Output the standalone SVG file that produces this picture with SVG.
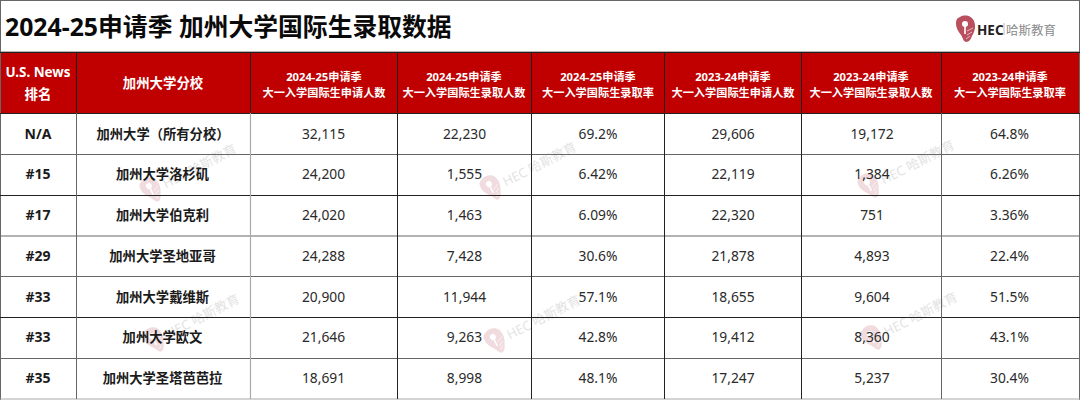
<svg xmlns="http://www.w3.org/2000/svg" width="1080" height="400" viewBox="0 0 1080 400">
<style>
text{font-family:"Noto Sans","Noto Sans CJK SC",sans-serif;text-anchor:middle}
.title{font-size:24.8px;font-weight:700;fill:#0a0a0a;text-anchor:start}
.hd{font-size:11.2px;font-weight:700;fill:#fff}
.hb{font-size:13.4px;font-weight:700;fill:#fff}
.r{font-size:14px;font-weight:700;fill:#1a1a1a}
.n{font-size:13.3px;font-weight:700;fill:#1a1a1a}
.v{font-size:13.8px;fill:#2a2a2a}
.dk{stroke:#222;stroke-width:1}
.md{stroke:#666;stroke-width:1}
.lt{stroke:#aaa;stroke-width:1.2}
.wm{font-size:13px;fill:#d8d8d8;opacity:.7;text-anchor:start}
</style>
<defs>
<g id="mark">
<path d="M-6-12C-1-15 6-13 8-8C10-3 9 2 6 7C5 10 3 13 0 13C-3 12-3 9-5 6C-8 2-10-1-10-5C-10-9-9-11-6-12Z" fill="#b9505f"/>
<circle cx="-1" cy="-5" r="3" fill="#fff"/>
<path d="M-1-3V5" stroke="#fff" stroke-width="1.6"/>
<path d="M1 2L7-1M1 6L6 3M0 10L4 7" stroke="#f0d0d5" stroke-width=".8"/>
</g>
<g id="wm" opacity=".2">
<use href="#mark"/>
</g>
</defs>
<rect width="1080" height="400" fill="#fff"/>
<g id="watermarks">
<g transform="translate(152 190) rotate(-27)"><use href="#wm"/><text class="wm" x="13" y="5">HEC 哈斯教育</text></g>
<g transform="translate(492 188) rotate(-27)"><use href="#wm"/><text class="wm" x="13" y="5">HEC 哈斯教育</text></g>
<g transform="translate(870 186) rotate(-27)"><use href="#wm"/><text class="wm" x="13" y="5">HEC 哈斯教育</text></g>
<g transform="translate(155 340) rotate(-27)"><use href="#wm"/><text class="wm" x="13" y="5">HEC 哈斯教育</text></g>
<g transform="translate(496 341) rotate(-27)"><use href="#wm"/><text class="wm" x="13" y="5">HEC 哈斯教育</text></g>
<g transform="translate(873 338) rotate(-27)"><use href="#wm"/><text class="wm" x="13" y="5">HEC 哈斯教育</text></g>
</g>
<text class="title" x="5" y="36">2024-25申请季 加州大学国际生录取数据</text>
<g id="logo">
<use href="#mark" transform="translate(966 29)"/>
<text x="977" y="35" style="font-size:13.5px;font-weight:700;fill:#222;text-anchor:start">HEC</text>
<path d="M1004 23V35" stroke="#bbb"/>
<text x="1006" y="35" style="font-size:12.5px;fill:#8a8a8a;text-anchor:start">哈斯教育</text>
</g>
<rect id="header" x="0" y="52" width="1080" height="61.5" fill="#c00000"/>
<g id="grid" fill="none">
<path class="md" d="M0 .5H1080M.5 0V400M1079.5 0V400M0 52H1080" stroke="#777"/>
<path class="dk" d="M0 52.5H1080M0 113.5H1080M76.5 52V113M250.5 52V113M397.5 52V113M531.5 52V113M664.5 52V113M801.5 52V113M941.5 52V113"/>
<path class="md" d="M0 154.5H1080M0 236H1080M0 276.5H1080M0 358.5H1080"/>
<path class="dk" d="M0 195.5H1080M0 317.5H1080" stroke-width="1.2"/>
<path class="lt" d="M0 399H1080"/>
<path class="md" d="M76.5 113V399"/>
<path class="lt" d="M250.5 113V399"/>
<path class="dk" d="M397.5 113V399M531.5 113V399M664.5 113V399M801.5 113V399"/>
<path class="md" d="M941.5 113V399"/>
</g>
<g id="head">
<text class="hb" x="38" y="77">U.S. News</text><text class="hb" x="38" y="99">排名</text>
<text class="hb" x="163" y="88">加州大学分校</text>
<text class="hd" x="324" y="80.500">2024-25申请季</text><text class="hd" x="324" y="96.500">大一入学国际生申请人数</text>
<text class="hd" x="464" y="80.500">2024-25申请季</text><text class="hd" x="464" y="96.500">大一入学国际生录取人数</text>
<text class="hd" x="598" y="80.500">2024-25申请季</text><text class="hd" x="598" y="96.500">大一入学国际生录取率</text>
<text class="hd" x="733" y="80.500">2023-24申请季</text><text class="hd" x="733" y="96.500">大一入学国际生申请人数</text>
<text class="hd" x="871" y="80.500">2023-24申请季</text><text class="hd" x="871" y="96.500">大一入学国际生录取人数</text>
<text class="hd" x="1010" y="80.500">2023-24申请季</text><text class="hd" x="1010" y="96.500">大一入学国际生录取率</text>
</g>
<g id="row1"><text class="r" x="38" y="139">N/A</text><text class="n" x="163" y="139">加州大学（所有分校）</text><text class="v" x="323.500" y="139">32,115</text><text class="v" x="464.500" y="139">22,230</text><text class="v" x="598" y="139">69.2%</text><text class="v" x="733" y="139">29,606</text><text class="v" x="872" y="139">19,172</text><text class="v" x="1009.500" y="139">64.8%</text></g>
<g id="row2"><text class="r" x="38" y="179">#15</text><text class="n" x="162.500" y="179">加州大学洛杉矶</text><text class="v" x="323.500" y="179">24,200</text><text class="v" x="464.500" y="179">1,555</text><text class="v" x="598" y="179">6.42%</text><text class="v" x="733" y="179">22,119</text><text class="v" x="872" y="179">1,384</text><text class="v" x="1009.500" y="179">6.26%</text></g>
<g id="row3"><text class="r" x="38" y="220">#17</text><text class="n" x="162.500" y="220">加州大学伯克利</text><text class="v" x="323.500" y="220">24,020</text><text class="v" x="464.500" y="220">1,463</text><text class="v" x="598" y="220">6.09%</text><text class="v" x="733" y="220">22,320</text><text class="v" x="872" y="220">751</text><text class="v" x="1009.500" y="220">3.36%</text></g>
<g id="row4"><text class="r" x="38" y="261">#29</text><text class="n" x="162.500" y="261">加州大学圣地亚哥</text><text class="v" x="323.500" y="261">24,288</text><text class="v" x="464.500" y="261">7,428</text><text class="v" x="598" y="261">30.6%</text><text class="v" x="733" y="261">21,878</text><text class="v" x="872" y="261">4,893</text><text class="v" x="1009.500" y="261">22.4%</text></g>
<g id="row5"><text class="r" x="38" y="302">#33</text><text class="n" x="162.500" y="302">加州大学戴维斯</text><text class="v" x="323.500" y="302">20,900</text><text class="v" x="464.500" y="302">11,944</text><text class="v" x="598" y="302">57.1%</text><text class="v" x="733" y="302">18,655</text><text class="v" x="872" y="302">9,604</text><text class="v" x="1009.500" y="302">51.5%</text></g>
<g id="row6"><text class="r" x="38" y="342">#33</text><text class="n" x="162.500" y="342">加州大学欧文</text><text class="v" x="323.500" y="342">21,646</text><text class="v" x="464.500" y="342">9,263</text><text class="v" x="598" y="342">42.8%</text><text class="v" x="733" y="342">19,412</text><text class="v" x="872" y="342">8,360</text><text class="v" x="1009.500" y="342">43.1%</text></g>
<g id="row7"><text class="r" x="38" y="383">#35</text><text class="n" x="162.500" y="383">加州大学圣塔芭芭拉</text><text class="v" x="323.500" y="383">18,691</text><text class="v" x="464.500" y="383">8,998</text><text class="v" x="598" y="383">48.1%</text><text class="v" x="733" y="383">17,247</text><text class="v" x="872" y="383">5,237</text><text class="v" x="1009.500" y="383">30.4%</text></g>
</svg>
